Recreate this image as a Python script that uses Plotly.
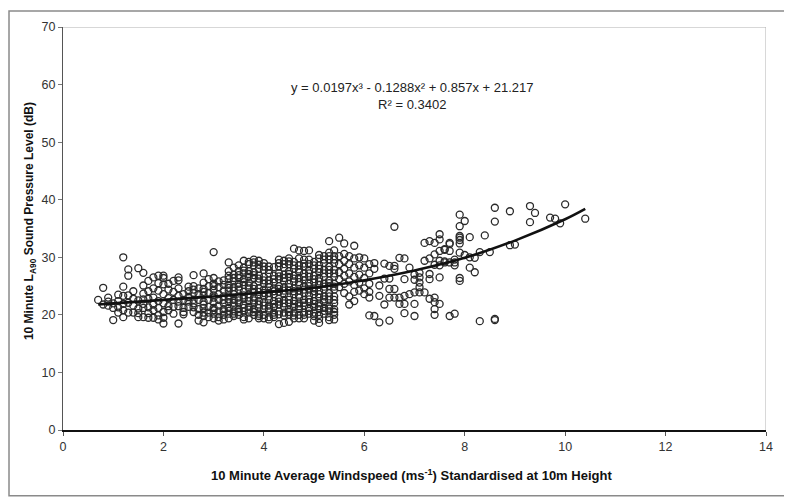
import plotly.graph_objects as go

# dense part of the cloud, read column by column (0.1 m/s steps)
dense_ws = [0.7, 0.8, 0.9, 1.0, 1.1, 1.2, 1.3, 1.4, 1.5, 1.6, 1.7, 1.8, 1.9,
            2.0, 2.1, 2.2, 2.3, 2.4, 2.5, 2.6, 2.7, 2.8, 2.9,
            3.0, 3.1, 3.2, 3.3, 3.4, 3.5, 3.6, 3.7, 3.8, 3.9,
            4.0, 4.1, 4.2, 4.3, 4.4, 4.5, 4.6, 4.7, 4.8, 4.9,
            5.0, 5.1, 5.2, 5.3, 5.4, 5.5, 5.6, 5.7, 5.8, 5.9, 6.0, 6.1]
dense_spl = [
    [22.6],
    [24.7, 21.8],
    [23.0, 21.6, 22.3],
    [22.0, 19.1, 21.2],
    [22.4, 21.3, 20.4, 23.5],
    [30.0, 24.9, 23.3, 21.9, 19.6, 20.8],
    [27.9, 26.8, 23.4, 22.1, 20.4],
    [24.1, 21.6, 20.4, 22.8],
    [28.1, 21.1, 19.6, 22.5, 20.3],
    [27.3, 25.1, 23.7, 22.7, 21.9, 21.2, 19.6],
    [25.9, 24.1, 22.8, 21.3, 20.3, 19.5],
    [26.5, 24.6, 23.0, 21.8, 20.8, 19.5],
    [26.8, 25.5, 24.2, 22.4, 21.2, 19.9, 19.2],
    [26.8, 26.4, 25.3, 23.6, 22.0, 20.5, 19.5, 18.5],
    [25.4, 24.4, 22.9, 21.5, 20.8],
    [25.9, 24.0, 22.6, 21.4, 20.2],
    [26.5, 26.0, 24.6, 23.3, 22.3, 21.5, 18.5],
    [23.6, 22.6, 21.2, 20.5, 20.1],
    [24.9, 24.1, 23.1, 22.3, 21.4],
    [26.9, 25.0, 23.8, 22.6, 21.3, 20.5],
    [24.6, 23.6, 22.6, 21.0, 20.0, 19.0],
    [27.2, 25.6, 24.5, 23.4, 22.3, 21.2, 20.4, 18.7],
    [26.2, 25.0, 23.8, 22.6, 21.4, 20.4, 19.6],
    [30.9, 26.4, 25.4, 24.4, 23.4, 22.2, 21.2, 20.2, 19.4],
    [25.8, 24.8, 23.6, 22.6, 21.6, 20.6, 19.6, 19.0],
    [26.0, 24.2, 23.2, 22.0, 21.0, 20.0, 19.2],
    [29.1, 27.6, 26.2, 25.2, 24.2, 23.2, 22.2, 21.2, 20.2, 19.4],
    [28.2, 27.0, 25.8, 24.8, 23.6, 22.6, 21.6, 20.6, 19.8],
    [27.6, 26.4, 25.4, 24.4, 23.0, 22.0, 21.0, 20.0],
    [29.4, 28.2, 27.2, 26.2, 25.2, 24.0, 22.8, 21.8, 20.6, 19.6],
    [28.8, 27.6, 26.6, 25.6, 24.6, 23.6, 22.4, 21.4, 20.4, 19.4],
    [29.6, 28.6, 27.4, 26.4, 25.0, 24.0, 23.0, 22.0, 21.0, 20.0],
    [29.4, 28.0, 26.8, 25.8, 24.6, 23.4, 22.4, 21.2, 20.2, 19.4],
    [29.0, 27.8, 26.6, 25.4, 24.4, 23.2, 22.2, 21.0, 20.0],
    [28.4, 27.2, 26.0, 24.8, 23.8, 22.6, 21.6, 20.6, 19.6],
    [26.8, 25.6, 24.6, 23.6, 22.4, 21.4, 20.4, 19.6],
    [29.6, 28.4, 27.2, 26.2, 25.0, 24.0, 22.8, 21.8, 20.6, 18.4],
    [29.4, 28.2, 27.0, 25.8, 24.8, 23.6, 22.6, 21.4, 20.4, 18.6],
    [29.8, 28.8, 27.6, 26.6, 25.4, 24.2, 23.2, 22.0, 21.0, 20.0, 18.8],
    [31.5, 29.2, 28.0, 26.8, 25.8, 24.6, 23.6, 22.4, 21.4, 20.4, 19.4],
    [31.2, 28.6, 27.4, 26.4, 25.2, 24.2, 23.0, 22.0, 21.0, 20.0],
    [31.1, 29.6, 28.4, 27.2, 26.0, 25.0, 23.8, 22.6, 21.6, 20.4, 19.4],
    [31.2, 28.8, 27.8, 26.6, 25.6, 24.4, 23.4, 22.2, 21.2, 20.2],
    [29.2, 28.0, 26.8, 25.6, 24.6, 23.6, 22.4, 21.4, 20.4, 19.0],
    [29.8, 28.6, 27.4, 26.4, 25.2, 24.2, 23.0, 22.0, 21.0, 20.0, 18.6],
    [30.2, 29.0, 27.8, 26.6, 25.4, 24.4, 23.2, 22.2, 21.2, 20.2],
    [32.8, 30.8, 29.6, 28.4, 27.2, 26.0, 25.0, 23.8, 22.6, 21.6, 20.6, 19.6],
    [31.2, 30.2, 29.0, 27.8, 26.6, 25.4, 24.4, 23.2, 22.0, 21.0, 20.0, 19.2],
    [33.4, 30.2, 28.8, 27.4, 26.2, 24.8],
    [32.4, 30.6, 29.4, 28.0, 26.8, 25.4, 23.8],
    [30.2, 28.8, 27.2, 25.8, 23.2, 21.8],
    [32.0, 29.8, 28.2, 26.6, 25.2, 24.0, 22.4],
    [30.0, 28.6, 27.0, 25.6, 24.2],
    [29.8, 28.2, 26.4, 24.6, 23.6],
    [28.8, 27.2, 25.4, 24.0, 23.0, 19.9],
]

# extra overlapping readings in the darkest core of the cloud
core_ws = [2.6, 2.8, 3.0, 3.2, 3.3, 3.4, 3.5, 3.6, 3.7, 3.8, 3.9, 4.0, 4.1, 4.2,
           4.3, 4.4, 4.5, 4.6, 4.7, 4.8, 4.9, 5.0, 5.1, 5.2, 5.3, 5.4]
core_spl = [
    [24.4, 22.0],
    [24.0, 21.8, 19.8],
    [25.0, 23.0, 20.8],
    [25.2, 22.6, 20.6],
    [26.8, 24.7, 22.7, 20.7],
    [26.4, 24.2, 22.1, 20.2],
    [28.6, 26.9, 24.9, 22.5, 20.5],
    [27.7, 25.7, 23.4, 21.2, 19.2],
    [29.2, 27.1, 25.1, 23.0, 20.9],
    [29.1, 26.9, 24.5, 22.5, 20.5],
    [28.7, 26.3, 24.0, 21.8, 19.8],
    [28.4, 26.0, 23.8, 21.6, 19.4],
    [27.8, 25.4, 23.2, 21.1, 19.2],
    [28.3, 26.2, 24.1, 21.9, 20.0],
    [29.0, 26.7, 24.5, 22.3, 20.1],
    [28.8, 26.4, 24.2, 22.0, 19.9],
    [29.3, 27.1, 24.8, 22.6, 20.5],
    [28.6, 26.3, 24.1, 21.9, 19.9],
    [29.8, 27.9, 25.7, 23.5, 21.5, 19.4],
    [28.9, 26.6, 24.4, 22.1, 20.0],
    [29.6, 27.2, 25.0, 22.7, 20.7],
    [28.6, 26.2, 24.1, 21.9, 19.8],
    [30.4, 28.0, 25.8, 23.6, 21.5, 19.3],
    [29.6, 27.2, 24.9, 22.7, 20.7],
    [30.2, 27.8, 25.5, 23.2, 21.1, 19.1],
    [29.6, 27.2, 24.9, 22.6, 20.5],
]

# scattered points at higher wind speeds
sparse_ws = [6.2, 6.2, 6.2, 6.3, 6.3, 6.3, 6.4, 6.4, 6.4, 6.5, 6.5, 6.5, 6.5, 6.5,
             6.6, 6.6, 6.6, 6.6, 6.6, 6.7, 6.7, 6.7, 6.8, 6.8, 6.8, 6.8, 6.8,
             6.9, 6.9, 7.0, 7.0, 7.0, 7.0, 7.0, 7.1, 7.1, 7.1, 7.1, 7.1,
             7.2, 7.2, 7.2, 7.3, 7.3, 7.3, 7.3, 7.3, 7.4, 7.4, 7.4, 7.4, 7.4, 7.4, 7.4,
             7.5, 7.5, 7.5, 7.5, 7.5, 7.5, 7.5, 7.6, 7.6, 7.6, 7.6,
             7.7, 7.7, 7.7, 7.7, 7.7, 7.8, 7.8, 7.8, 7.8,
             7.9, 7.9, 7.9, 7.9, 7.9, 7.9, 7.9, 7.9, 7.9, 8.0, 8.0,
             8.1, 8.1, 8.1, 8.2, 8.2, 8.3, 8.3, 8.4, 8.5, 8.6, 8.6, 8.6, 8.6,
             8.9, 8.9, 9.0, 9.3, 9.3, 9.4, 9.7, 9.8, 9.9, 10.0, 10.4]
sparse_spl = [29.0, 28.0, 19.8, 18.7, 25.1, 23.3, 28.9, 26.3, 21.8, 26.3, 24.5, 23.0, 19.0, 28.5,
              35.3, 28.5, 28.0, 24.5, 23.0, 29.9, 23.0, 21.9, 29.8, 26.2, 23.3, 21.9, 20.3,
              28.2, 23.6, 27.0, 26.1, 23.9, 21.9, 19.8, 27.3, 26.5, 25.6, 24.8, 23.9,
              32.5, 29.4, 23.9, 32.8, 29.8, 27.1, 26.2, 22.8, 32.5, 30.5, 28.7, 23.0, 22.2, 21.0, 20.0,
              34.0, 33.1, 31.1, 29.4, 28.6, 26.5, 21.9, 31.4, 31.3, 29.3, 29.1,
              32.5, 32.3, 31.1, 29.1, 19.8, 29.6, 29.1, 28.6, 20.2,
              37.4, 35.4, 33.7, 33.4, 33.0, 32.4, 30.8, 26.4, 25.9, 36.3, 30.4,
              33.5, 30.0, 28.2, 29.9, 27.4, 18.9, 30.9, 33.8, 30.9, 38.6, 36.2, 19.3, 19.1,
              38.0, 32.1, 32.2, 38.9, 36.1, 37.7, 36.9, 36.7, 35.9, 39.2, 36.7]

# polynomial trendline
trend_ws = [0.7, 1.0, 2.0, 3.0, 4.0, 5.0, 6.0, 7.0, 8.0, 9.0, 10.0, 10.4]
trend_spl = [21.8, 22.0, 22.6, 23.2, 23.9, 24.7, 26.0, 27.7, 29.9, 32.9, 36.6, 38.4]

ws = []
spl = []
for x, col in list(zip(dense_ws, dense_spl)) + list(zip(core_ws, core_spl)):
    ws += [x] * len(col)
    spl += col
ws += sparse_ws
spl += sparse_spl

narrow = "Liberation Sans Narrow, Arial Narrow, Liberation Sans, Arial, sans-serif"
sans = "Liberation Sans, Arial, sans-serif"

fig = go.Figure()
fig.add_trace(go.Scatter(
    x=ws, y=spl, mode="markers",
    marker=dict(symbol="circle-open", size=7, color="#2a2a2a",
                line=dict(width=1.3, color="#2a2a2a")),
    showlegend=False))
fig.add_trace(go.Scatter(
    x=trend_ws, y=trend_spl, mode="lines",
    line=dict(color="#111", width=2.6, shape="spline"),
    showlegend=False))

fig.update_xaxes(range=[0, 14], dtick=2, showgrid=False, zeroline=False,
                 showline=True, linecolor="#111", linewidth=2,
                 ticks="outside", ticklen=4, tickcolor="#555",
                 tickfont=dict(family=narrow, size=12.5, color="#333"))
fig.update_yaxes(range=[0, 70], dtick=10, showgrid=False, zeroline=False,
                 showline=True, linecolor="#555", linewidth=1,
                 ticks="outside", ticklen=4, tickcolor="#777",
                 tickfont=dict(family=narrow, size=12.5, color="#333"))

# light frame on the top and right of the plot area
fig.add_shape(type="line", x0=0, x1=14, y0=70, y1=70,
              line=dict(color="#b0b0b0", width=1))
fig.add_shape(type="line", x0=14, x1=14, y0=0, y1=70,
              line=dict(color="#b0b0b0", width=1))
# outer chart border
fig.add_shape(type="rect", xref="paper", yref="paper",
              x0=-0.0768, x1=1.027, y0=-0.163, y1=1.0395,
              line=dict(color="#8a8a8a", width=1.5))

fig.add_annotation(x=6.95, y=58.0, showarrow=False,
                   text="y = 0.0197x³ - 0.1288x² + 0.857x + 21.217<br>R² = 0.3402",
                   font=dict(family=sans, size=13, color="#222"))
fig.add_annotation(xref="paper", yref="paper", x=-0.0469, y=0.5185,
                   xanchor="center", yanchor="middle",
                   showarrow=False, textangle=-90,
                   text="<b>10 Minute L<sub>A90</sub> Sound Pressure Level (dB)</b>",
                   font=dict(family=sans, size=12, color="#111"))
fig.add_annotation(xref="paper", yref="paper", x=0.4964, y=-0.111,
                   xanchor="center", yanchor="middle",
                   showarrow=False,
                   text="<b>10 Minute Average Windspeed (ms<sup>-1</sup>) Standardised at 10m Height</b>",
                   font=dict(family=narrow, size=13, color="#111"))

# the page adds an 8px body margin, so margins are shifted to compensate
fig.update_layout(
    width=792, height=499,
    margin=dict(l=55, r=34, t=17, b=77),
    paper_bgcolor="white", plot_bgcolor="white",
)

fig.write_html("out.html")
